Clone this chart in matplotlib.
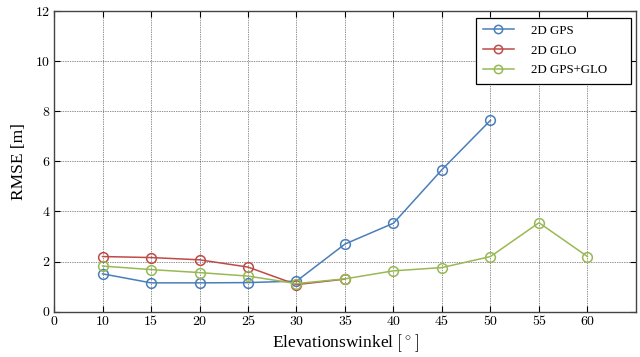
import matplotlib
matplotlib.use("Agg")
import matplotlib.pyplot as plt

x_gps = [10, 15, 20, 25, 30, 35, 40, 45, 50]
gps = [1.51, 1.15, 1.15, 1.16, 1.22, 2.70, 3.53, 5.67, 7.64]
x_glo = [10, 15, 20, 25, 30, 35]
glo = [2.20, 2.16, 2.07, 1.78, 1.08, 1.30]
x_both = [10, 15, 20, 25, 30, 35, 40, 45, 50, 55, 60]
both = [1.82, 1.68, 1.56, 1.42, 1.12, 1.31, 1.63, 1.76, 2.20, 3.55, 2.20]
xticks = [5, 10, 15, 20, 25, 30, 35, 40, 45, 50, 55, 60]
xticklabels = ["0", "10", "15", "20", "25", "30", "35", "40", "45", "50", "55", "60"]
yticks = [0, 2, 4, 6, 8, 10, 12]

plt.rcParams['mathtext.fontset'] = 'cm'
cm_font = 'cmr10'
serif = 'Liberation Serif'

fig = plt.figure(figsize=(6.4, 3.57), dpi=100)
ax = fig.add_axes([0.0844, 0.127, 0.9093, 0.842])

kw = dict(marker='o', markersize=7, markerfacecolor='none', markeredgewidth=1.1, linewidth=1.1)
ax.plot(x_gps, gps, color='#4a7ebb', label='2D GPS', **kw)
ax.plot(x_glo, glo, color='#be4b48', label='2D GLO', **kw)
ax.plot(x_both, both, color='#98b954', label='2D GPS+GLO', **kw)

ax.set_xlim(5, 65)
ax.set_ylim(0, 12)
ax.set_xticks(xticks)
ax.set_xticklabels(xticklabels, fontname=cm_font, fontsize=10)
ax.set_yticks(yticks)
ax.set_yticklabels([str(v) for v in yticks], fontname=cm_font, fontsize=10)
ax.grid(True, linestyle=(0, (1, 1.5)), color='#222222', linewidth=0.5)
ax.tick_params(direction='in', top=True, right=True, length=4, width=0.8, pad=3)
for s in ax.spines.values():
    s.set_linewidth(1.0)
    s.set_color('#444444')

ax.set_xlabel('Elevationswinkel $[^\\circ]$', fontname=serif, fontsize=12.5, labelpad=3)
ax.set_ylabel('RMSE [m]', fontname=serif, fontsize=12.5, labelpad=6)

# legend box in axes coordinates (from reference pixels)
lx0 = (475.7 - 54) / 582
lx1 = (631 - 54) / 582
ly1 = 1 - (18.3 - 11.7) / 300
ly0 = 1 - (82.7 - 11.7) / 300
leg = ax.legend(loc='upper left', prop={'family': serif, 'size': 9.3},
                fancybox=False, edgecolor='black', framealpha=1, handlelength=2.4,
                borderpad=0.55, labelspacing=0.6, handletextpad=1.3, borderaxespad=0,
                mode='expand', bbox_to_anchor=(lx0, ly0, lx1 - lx0, ly1 - ly0))
leg.get_frame().set_linewidth(0.9)
for h in leg.legend_handles:
    h.set_markersize(6)

fig.savefig('out.png', dpi=100)
